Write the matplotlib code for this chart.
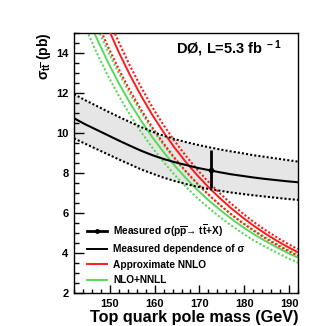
import matplotlib
matplotlib.use("Agg")
import matplotlib.pyplot as plt
from matplotlib.lines import Line2D

plt.rcParams['font.family'] = ['Liberation Sans', 'DejaVu Sans']
plt.rcParams['font.weight'] = 'bold'
plt.rcParams['mathtext.fontset'] = 'custom'
plt.rcParams['mathtext.rm'] = 'Liberation Sans:bold'
plt.rcParams['mathtext.it'] = 'Liberation Sans:bold'
plt.rcParams['mathtext.bf'] = 'Liberation Sans:bold'
plt.rcParams['mathtext.sf'] = 'Liberation Sans:bold'

# ---- data ----
# measured dependence of sigma on the top quark pole mass (with band)
meas_mass = [142, 144.5, 147, 149.5, 152, 154.5, 157, 159.5, 162, 164.5, 167,
             169.5, 172, 174.5, 177, 179.5, 182, 184.5, 187, 189.5, 192]
meas_central = [10.73, 10.43, 10.16, 9.89, 9.62, 9.36, 9.11, 8.89, 8.70, 8.54, 8.40,
                8.26, 8.15, 8.04, 7.94, 7.86, 7.78, 7.71, 7.65, 7.59, 7.54]
meas_upper = [11.93, 11.63, 11.35, 11.07, 10.80, 10.54, 10.29, 10.06, 9.86, 9.69, 9.54,
              9.41, 9.29, 9.18, 9.08, 8.99, 8.89, 8.81, 8.73, 8.65, 8.57]
meas_lower = [9.73, 9.46, 9.20, 8.94, 8.68, 8.43, 8.18, 7.97, 7.77, 7.60, 7.45,
              7.32, 7.21, 7.12, 7.03, 6.96, 6.89, 6.83, 6.77, 6.71, 6.66]

# measured cross section point
point_mass = 172.5
point_xsec = 8.13
point_err_up = 1.02
point_err_down = 0.90

# approximate NNLO
nnlo_mass = [147, 149.5, 152, 154.5, 157, 159.5, 162, 164.5, 167, 169.5,
             172, 174.5, 177, 179.5, 182, 184.5, 187, 189.5, 192]
nnlo_central = [16.67, 15.28, 14.02, 12.88, 11.84, 10.89, 10.03, 9.25, 8.54, 7.89,
                7.30, 6.76, 6.26, 5.81, 5.39, 5.01, 4.66, 4.34, 4.05]
nnlo_upper = [17.27, 15.83, 14.52, 13.34, 12.27, 11.28, 10.39, 9.58, 8.85, 8.17,
              7.56, 7.00, 6.49, 6.02, 5.58, 5.19, 4.83, 4.50, 4.20]
nnlo_lower = [15.62, 14.34, 13.17, 12.11, 11.15, 10.27, 9.47, 8.74, 8.08, 7.48,
              6.93, 6.42, 5.95, 5.53, 5.14, 4.78, 4.45, 4.15, 3.88]

# NLO+NNLL
nnll_mass = [144.5, 147, 149.5, 152, 154.5, 157, 159.5, 162, 164.5, 167,
             169.5, 172, 174.5, 177, 179.5, 182, 184.5, 187, 189.5, 192]
nnll_central = [16.06, 14.75, 13.56, 12.48, 11.49, 10.60, 9.78, 9.04, 8.36, 7.74,
                7.17, 6.65, 6.18, 5.74, 5.34, 4.97, 4.64, 4.33, 4.04, 3.78]
nnll_upper = [16.70, 15.34, 14.10, 12.98, 11.95, 11.02, 10.17, 9.40, 8.69, 8.05,
              7.46, 6.92, 6.43, 5.97, 5.55, 5.17, 4.83, 4.50, 4.20, 3.93]
nnll_lower = [15.29, 14.03, 12.88, 11.85, 10.90, 10.04, 9.26, 8.55, 7.90, 7.31,
              6.76, 6.27, 5.82, 5.40, 5.02, 4.66, 4.35, 4.06, 3.78, 3.53]

x_ticks = [150, 160, 170, 180, 190]
y_ticks = [2, 4, 6, 8, 10, 12, 14]

legend_labels = [r"Measured σ(p$\overline{\rm p}$→ t$\overline{\rm t}$+X)",
                 "Measured dependence of σ",
                 "Approximate NNLO",
                 "NLO+NNLL"]

RED = '#ff1a1a'
GREEN = '#58d858'

fig = plt.figure(figsize=(3.32, 3.26), dpi=100)
ax = fig.add_axes([74/332, (326-293.4)/326, 224/332, (293.4-32.6)/326])

ax.fill_between(meas_mass, meas_lower, meas_upper, color='#e6e6e6', lw=0, zorder=1)

dot = (0, (1, 1))
ax.plot(nnll_mass, nnll_upper, color=GREEN, lw=1.5, ls=dot, zorder=2)
ax.plot(nnll_mass, nnll_lower, color=GREEN, lw=1.5, ls=dot, zorder=2)
ax.plot(nnll_mass, nnll_central, color=GREEN, lw=1.4, zorder=2)
ax.plot(nnlo_mass, nnlo_upper, color=RED, lw=1.5, ls=dot, zorder=3)
ax.plot(nnlo_mass, nnlo_lower, color=RED, lw=1.5, ls=dot, zorder=3)
ax.plot(nnlo_mass, nnlo_central, color=RED, lw=1.4, zorder=3)

ax.plot(meas_mass, meas_upper, color='black', lw=1.5, ls=dot, zorder=4)
ax.plot(meas_mass, meas_lower, color='black', lw=1.5, ls=dot, zorder=4)
ax.plot(meas_mass, meas_central, color='black', lw=1.5, zorder=4)

ax.errorbar([point_mass], [point_xsec], yerr=[[point_err_down], [point_err_up]],
            fmt='o', color='black', ms=3, elinewidth=2.0, capsize=0, zorder=5)

ax.set_xlim(142, 192)
ax.set_ylim(2, 15)
ax.set_xticks(x_ticks)
ax.set_yticks(y_ticks)
ax.set_xticks([m for m in range(142, 193, 2)], minor=True)
ax.set_yticks([v / 2 for v in range(4, 31)], minor=True)
ax.tick_params(which='both', direction='in', top=False, right=False, labelsize=8, width=1)
ax.tick_params(axis='y', which='major', length=7, pad=4)
ax.tick_params(axis='y', which='minor', length=3.5)
ax.tick_params(axis='x', which='major', length=5.5, pad=4)
ax.tick_params(axis='x', which='minor', length=3)
for lab in ax.get_xticklabels() + ax.get_yticklabels():
    lab.set_fontweight('bold')
for s in ax.spines.values():
    s.set_linewidth(1.0)

ax.set_xlabel("Top quark pole mass (GeV)", fontsize=11.7, fontweight='bold', loc='right', labelpad=1)
ax.set_ylabel(r"σ$_{\rm t\overline{t}}$ (pb)", fontsize=10, fontweight='bold', loc='top', labelpad=2)

ax.text(0.456, 0.937, r"DØ, L=5.3 fb$^{\ -1}$", transform=ax.transAxes, fontsize=10.5,
        fontweight='bold', va='center', ha='left')

handles = [Line2D([], [], color='black', lw=2, marker='o', ms=2.5),
           Line2D([], [], color='black', lw=1.4),
           Line2D([], [], color=RED, lw=1.4),
           Line2D([], [], color=GREEN, lw=1.4)]
leg = ax.legend(handles, legend_labels, loc='lower left', bbox_to_anchor=(0.04, 0.015),
                frameon=False, fontsize=7.3, handlelength=2.0, handletextpad=0.6,
                labelspacing=0.55, borderaxespad=0.0)
for t in leg.get_texts():
    t.set_fontweight('bold')

fig.savefig("out.png", dpi=100)
